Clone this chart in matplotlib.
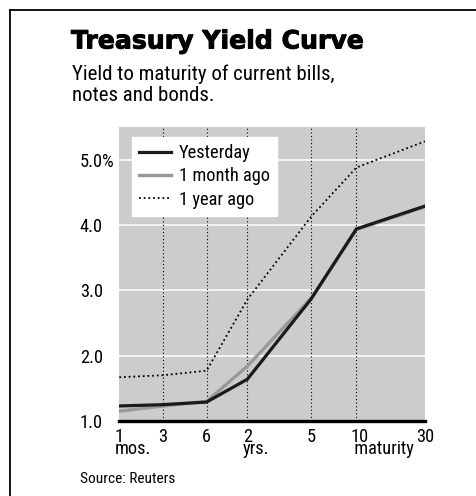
"""Treasury yield curve - reproduction du graphique Reuters."""
import matplotlib
matplotlib.use("Agg")
import matplotlib.pyplot as plt
import matplotlib.patheffects as pe
from matplotlib.lines import Line2D
from matplotlib.transforms import offset_copy

# maturites (labels) et position sur l'axe (echelle non lineaire du graphique)
maturities = ["1", "3", "6", "2", "5", "10", "30"]
maturity_units = ["mos.", "", "", "yrs.", "", " maturity", ""]
axis_pos = [0, 1, 2.01, 2.95, 4.42, 5.46, 7.04]

yesterday = [1.23, 1.25, 1.29, 1.64, 2.87, 3.94, 4.29]
month_ago = [1.15, 1.23, 1.30, 1.84, 2.88, 3.93, 4.28]
year_ago = [1.67, 1.70, 1.77, 2.86, 4.13, 4.88, 5.28]

y_ticks = [1.0, 2.0, 3.0, 4.0, 5.0]
y_labels = ["1.0", "2.0", "3.0", "4.0", "5.0%"]

NARROW = ["Roboto Condensed", "DejaVu Sans"]
BG = "#cccccc"
FS = 13.2  # ticks / legende

fig = plt.figure(figsize=(4.76, 4.96), dpi=100)
W, H = 476, 496
renderer = fig.canvas.get_renderer()


def fit_width(t, target_px):
    """ajuste la taille de police pour obtenir la largeur voulue (px)."""
    for _ in range(3):
        w = t.get_window_extent(renderer).width
        t.set_fontsize(t.get_fontsize() * target_px / w)


# cadre en L (haut + gauche)
fig.add_artist(Line2D([9.5 / W, 1], [1 - 9.5 / H] * 2, color="black", lw=1.3))
fig.add_artist(Line2D([9.5 / W] * 2, [0, 1 - 9.5 / H], color="black", lw=1.3))

t = fig.text(71 / W, 1 - 48.5 / H, "Treasury Yield Curve", fontsize=16,
             fontweight="bold", family="DejaVu Sans", va="baseline", ha="left",
             path_effects=[pe.withStroke(linewidth=0.7, foreground="black")])
fit_width(t, 293)
t = fig.text(72 / W, 1 - 80.5 / H, "Yield to maturity of current bills,", fontsize=14,
             family=NARROW, va="baseline", ha="left")
fit_width(t, 263)
fig.text(72 / W, 1 - 101 / H, "notes and bonds.", fontsize=t.get_fontsize(),
         family=NARROW, va="baseline", ha="left")
t = fig.text(80 / W, 1 - 483 / H, "Source: Reuters", fontsize=11,
             family=NARROW, va="baseline", ha="left")
fit_width(t, 96)

ax = fig.add_axes([119.3 / W, 75 / H, (425 - 119.3) / W, (421 - 127) / H])
ax.set_facecolor(BG)
ax.set_xlim(axis_pos[0], axis_pos[-1])
ax.set_ylim(1.0, 5.5)

# grilles : horizontales blanches, verticales pointillees
for yv in y_ticks[1:]:
    ax.axhline(yv, color="white", lw=1.1, zorder=1)
for xv in axis_pos[1:-1]:
    ax.axvline(xv, color="black", lw=0.8, ls=(0, (1, 2.2)), zorder=1)

ax.plot(axis_pos, month_ago, color="#999999", lw=2.4, zorder=3,
        solid_joinstyle="miter", label="1 month ago")
ax.plot(axis_pos, yesterday, color="#1a1a1a", lw=2.3, zorder=4,
        solid_joinstyle="miter", label="Yesterday")
ax.plot(axis_pos, year_ago, color="black", lw=1.3, ls=(0, (1, 1.6)), zorder=3,
        label="1 year ago")

for s in ["top", "right", "left"]:
    ax.spines[s].set_visible(False)
ax.spines["bottom"].set_linewidth(2.4)
ax.spines["bottom"].set_zorder(5)

ax.set_yticks(y_ticks)
ax.set_yticklabels(y_labels, ha="left", family=NARROW, fontsize=FS)
ax.tick_params(axis="y", length=0, pad=28.5)

# etiquettes x : chiffre + unite sur deux lignes, serrees comme l'original
ax.set_xticks(axis_pos)
ax.set_xticklabels([])
ax.tick_params(axis="x", length=0)
xtr = ax.get_xaxis_transform()
for xv, lab, unit in zip(axis_pos, maturities, maturity_units):
    if unit:
        dx = -6.3 if len(lab) > 1 else -4.5
        ax.text(xv, -0.1135, lab + "\n" + unit, family=NARROW, fontsize=FS,
                ha="left", va="baseline", linespacing=0.63,
                transform=offset_copy(xtr, fig, x=dx, y=0, units="dots"))
    else:
        ax.text(xv, -0.0714, lab, family=NARROW, fontsize=FS,
                ha="center", va="baseline", transform=xtr)

h, l = ax.get_legend_handles_labels()
order = [1, 0, 2]
leg = ax.legend([h[i] for i in order], [l[i] for i in order],
                loc="upper left", bbox_to_anchor=(0.0415, 0.966),
                prop={"family": NARROW, "size": FS}, frameon=True, fancybox=False,
                edgecolor="white", facecolor="white", framealpha=1,
                handlelength=1.75, handletextpad=0.4, borderpad=0.4,
                borderaxespad=0, labelspacing=0.28)
leg.set_zorder(6)

fig.savefig("out.png", dpi=100)
